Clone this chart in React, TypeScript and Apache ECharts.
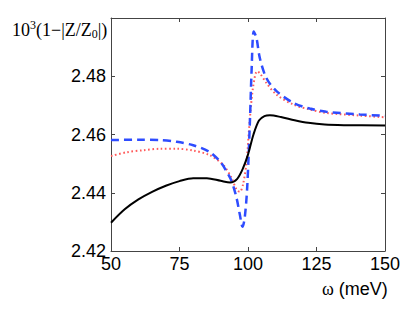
import React, { useEffect, useRef } from "react";
import * as echarts from "echarts";

const xTicks = [50, 75, 100, 125, 150];
const yTicks = [2.42, 2.44, 2.46, 2.48];

const blackX = [50, 55, 60, 65, 70, 75, 80, 85, 90, 93.5, 96, 98, 100, 102, 104, 106, 108, 112, 117, 122, 128, 135, 150];
const blackY = [2.4297, 2.4343, 2.4377, 2.4403, 2.4424, 2.444, 2.445, 2.445, 2.4441, 2.4435, 2.4447, 2.448, 2.4531, 2.46, 2.4648, 2.4663, 2.4666, 2.466, 2.4649, 2.464, 2.4634, 2.4632, 2.4631];

const blueX = [50, 60, 68, 74, 80, 86, 90, 92, 94, 95.8, 97, 98, 98.8, 99.7, 100.7, 101.3, 102.1, 103.1, 104.3, 106.7, 110.4, 116.5, 122.5, 128.6, 140.8, 150];
const blueY = [2.4581, 2.4582, 2.4581, 2.4575, 2.4563, 2.454, 2.4505, 2.4476, 2.444, 2.4383, 2.4326, 2.4283, 2.4314, 2.4417, 2.4646, 2.4817, 2.4954, 2.4931, 2.4863, 2.4794, 2.4749, 2.4709, 2.4689, 2.4678, 2.4669, 2.4664];

const redX = [50, 55.7, 61.8, 67.9, 73.9, 80, 86, 91, 94, 95.8, 97, 98.2, 99.5, 100.7, 101.9, 103.3, 104.3, 106.7, 110.4, 116.5, 122.5, 128.6, 140.8, 150];
const redY = [2.4526, 2.4539, 2.4546, 2.4551, 2.4551, 2.4545, 2.4529, 2.4495, 2.4451, 2.4411, 2.4403, 2.4429, 2.4509, 2.4657, 2.4766, 2.4817, 2.4811, 2.4777, 2.4737, 2.4703, 2.4686, 2.4674, 2.4665, 2.4659];

const pairs = (xs: number[], ys: number[]) => xs.map((x, i) => [x, ys[i]]);

export default function App() {
  const ref = useRef<HTMLDivElement>(null);
  useEffect(() => {
    document.body.style.margin = "0";
    const chart = echarts.init(ref.current!, null, { renderer: "svg" });
    const axisColor = "#444";
    const sans = "Liberation Sans";
    const serif = "Liberation Serif";
    chart.setOption({
      animation: false,
      backgroundColor: "#fff",
      grid: { left: 111, right: 24, top: 18, bottom: 68, show: false },
      xAxis: [
        {
          type: "value",
          min: 50,
          max: 150,
          interval: 25,
          axisLine: { show: true, lineStyle: { color: axisColor, width: 1 } },
          axisTick: { show: true, inside: true, length: 4, lineStyle: { color: axisColor } },
          splitLine: { show: false },
          axisLabel: {
            color: "#000",
            fontFamily: sans,
            fontSize: 18,
            margin: 4,
            formatter: (v: number) => (xTicks.includes(v) ? String(v) : ""),
          },
        },
        {
          type: "value",
          position: "top",
          min: 50,
          max: 150,
          interval: 25,
          axisLine: { show: true, lineStyle: { color: axisColor, width: 1 } },
          axisTick: { show: true, inside: true, length: 4, lineStyle: { color: axisColor } },
          splitLine: { show: false },
          axisLabel: { show: false },
        },
      ],
      yAxis: [
        {
          type: "value",
          min: 2.42,
          max: 2.5,
          interval: 0.02,
          axisLine: { show: true, lineStyle: { color: axisColor, width: 1 } },
          axisTick: { show: true, inside: true, length: 4, lineStyle: { color: axisColor } },
          splitLine: { show: false },
          axisLabel: {
            color: "#000",
            fontFamily: sans,
            fontSize: 18,
            margin: 5,
            showMaxLabel: false,
            formatter: (v: number) => {
              const t = yTicks.find((y) => Math.abs(y - v) < 1e-6);
              return t !== undefined ? t.toFixed(2) : "";
            },
          },
        },
        {
          type: "value",
          position: "right",
          min: 2.42,
          max: 2.5,
          interval: 0.02,
          axisLine: { show: true, lineStyle: { color: axisColor, width: 1 } },
          axisTick: { show: true, inside: true, length: 4, lineStyle: { color: axisColor } },
          splitLine: { show: false },
          axisLabel: { show: false },
        },
      ],
      series: [
        {
          type: "line",
          data: pairs(redX, redY),
          smooth: 0.3,
          symbol: "none",
          lineStyle: { color: "#ff5a5a", width: 2, type: [1.6, 2.6] },
        },
        {
          type: "line",
          data: pairs(blueX, blueY),
          smooth: 0.3,
          symbol: "none",
          lineStyle: { color: "#2e4cff", width: 2.5, type: [8, 5] },
        },
        {
          type: "line",
          data: pairs(blackX, blackY),
          smooth: 0.3,
          symbol: "none",
          lineStyle: { color: "#000", width: 2 },
        },
      ],
      graphic: [
        {
          type: "text",
          left: 12,
          top: 19,
          style: {
            text: "10{sup|3}(1−|Z/Z{sub|0}|)",
            fontFamily: serif,
            fontSize: 18,
            fill: "#000",
            rich: {
              sup: { fontFamily: serif, fontSize: 12, verticalAlign: "top", padding: [0, 0, 8, 0] },
              sub: { fontFamily: serif, fontSize: 12, padding: [9, 0, 0, 0] },
            },
          },
        },
        {
          type: "text",
          left: 322,
          top: 280,
          style: {
            text: "{w|ω} (meV)",
            fontFamily: sans,
            fontSize: 18,
            fill: "#000",
            rich: { w: { fontFamily: serif, fontSize: 18 } },
          },
        },
      ],
    });
    return () => chart.dispose();
  }, []);
  return <div ref={ref} style={{ width: 409, height: 319 }} />;
}
